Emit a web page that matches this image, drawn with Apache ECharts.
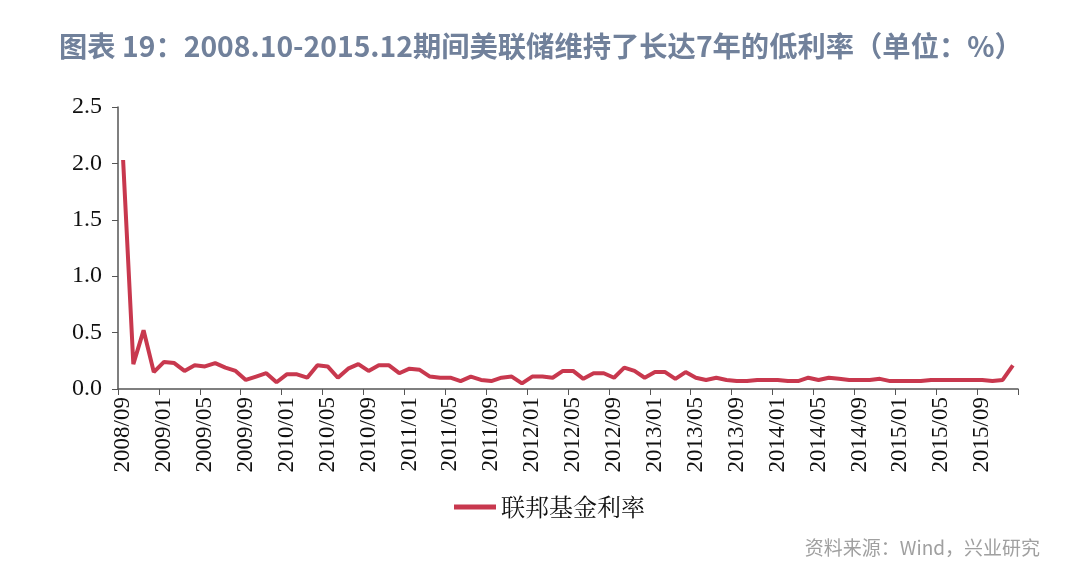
<!DOCTYPE html>
<html>
<head>
<meta charset="utf-8">
<script src="https://cdn.jsdelivr.net/npm/echarts@6/dist/echarts.min.js"></script>
<style>
html,body{margin:0;padding:0;background:#fff;}
#chart{width:1080px;height:585px;}
</style>
</head>
<body>
<div id="chart"></div>
<script>
var categories = [
"2008/09","2008/10","2008/11","2008/12",
"2009/01","2009/02","2009/03","2009/04","2009/05","2009/06","2009/07","2009/08","2009/09","2009/10","2009/11","2009/12",
"2010/01","2010/02","2010/03","2010/04","2010/05","2010/06","2010/07","2010/08","2010/09","2010/10","2010/11","2010/12",
"2011/01","2011/02","2011/03","2011/04","2011/05","2011/06","2011/07","2011/08","2011/09","2011/10","2011/11","2011/12",
"2012/01","2012/02","2012/03","2012/04","2012/05","2012/06","2012/07","2012/08","2012/09","2012/10","2012/11","2012/12",
"2013/01","2013/02","2013/03","2013/04","2013/05","2013/06","2013/07","2013/08","2013/09","2013/10","2013/11","2013/12",
"2014/01","2014/02","2014/03","2014/04","2014/05","2014/06","2014/07","2014/08","2014/09","2014/10","2014/11","2014/12",
"2015/01","2015/02","2015/03","2015/04","2015/05","2015/06","2015/07","2015/08","2015/09","2015/10","2015/11","2015/12"
];
var fedFundsRate = [
2.03,0.22,0.52,0.15,
0.24,0.23,0.16,0.21,0.20,0.23,0.19,0.16,0.08,0.11,0.14,0.06,
0.13,0.13,0.10,0.21,0.20,0.10,0.18,0.22,0.16,0.21,0.21,0.14,
0.18,0.17,0.11,0.10,0.10,0.07,0.11,0.08,0.07,0.10,0.11,0.05,
0.11,0.11,0.10,0.16,0.16,0.09,0.14,0.14,0.10,0.19,0.16,0.10,
0.15,0.15,0.09,0.15,0.10,0.08,0.10,0.08,0.07,0.07,0.08,0.08,
0.08,0.07,0.07,0.10,0.08,0.10,0.09,0.08,0.08,0.08,0.09,0.07,
0.07,0.07,0.07,0.08,0.08,0.08,0.08,0.08,0.08,0.07,0.08,0.21
];
var yTicks = [0, 0.5, 1.0, 1.5, 2.0, 2.5];
var seriesName = "联邦基金利率";
var titleText = "图表 19：2008.10-2015.12期间美联储维持了长达7年的低利率（单位：%）";
var sourceText = "资料来源：Wind，兴业研究";

var chart = echarts.init(document.getElementById('chart'), null, {renderer:'canvas'});
var serif = '"Liberation Serif","Times New Roman",serif';
var option = {
  backgroundColor: '#ffffff',
  animation: false,
  title: [{
    text: titleText,
    left: 54, top: 27,
    textStyle: {fontFamily:'"Noto Sans CJK SC","Noto Sans",sans-serif', fontSize: 28.3, fontWeight: 'bold', color: '#71819b'}
  },{
    text: sourceText,
    right: 35, top: 533,
    textStyle: {fontFamily:'"Noto Sans CJK SC","Noto Sans",sans-serif', fontSize: 19, fontWeight: 'normal', color: '#a0a0a0'}
  }],
  legend: {
    data: [seriesName],
    left: 449, top: 490,
    icon: 'rect', itemWidth: 42, itemHeight: 5, itemGap: 8,
    textStyle: {fontFamily:'"Noto Serif CJK SC","Noto Sans CJK SC",serif', fontSize: 24, color: '#111'}
  },
  grid: {left: 118, right: 62, top: 107, bottom: 196, containLabel: false},
  xAxis: {
    type: 'category',
    data: categories,
    boundaryGap: true,
    axisLine: {show: true, lineStyle: {color: '#555', width: 1.5}},
    axisTick: {show: true, interval: 3, length: 6, lineStyle: {color: '#555'}},
    axisLabel: {interval: 3, rotate: 90, margin: 8, fontFamily: serif, fontSize: 23, color: '#111'},
    splitLine: {show: false}
  },
  yAxis: {
    type: 'value',
    min: yTicks[0], max: yTicks[yTicks.length-1], interval: 0.5,
    axisLine: {show: true, lineStyle: {color: '#555', width: 1.5}},
    axisTick: {show: true, length: 6, lineStyle: {color: '#555'}},
    axisLabel: {margin: 16, fontFamily: serif, fontSize: 24, color: '#111', formatter: function(v){return v.toFixed(1);}},
    splitLine: {show: false}
  },
  series: [{
    name: seriesName,
    type: 'line',
    data: fedFundsRate,
    showSymbol: false,
    symbol: 'none',
    lineStyle: {color: '#c8384e', width: 4},
    itemStyle: {color: '#c8384e'}
  }]
};
chart.setOption(option);
</script>
</body>
</html>
